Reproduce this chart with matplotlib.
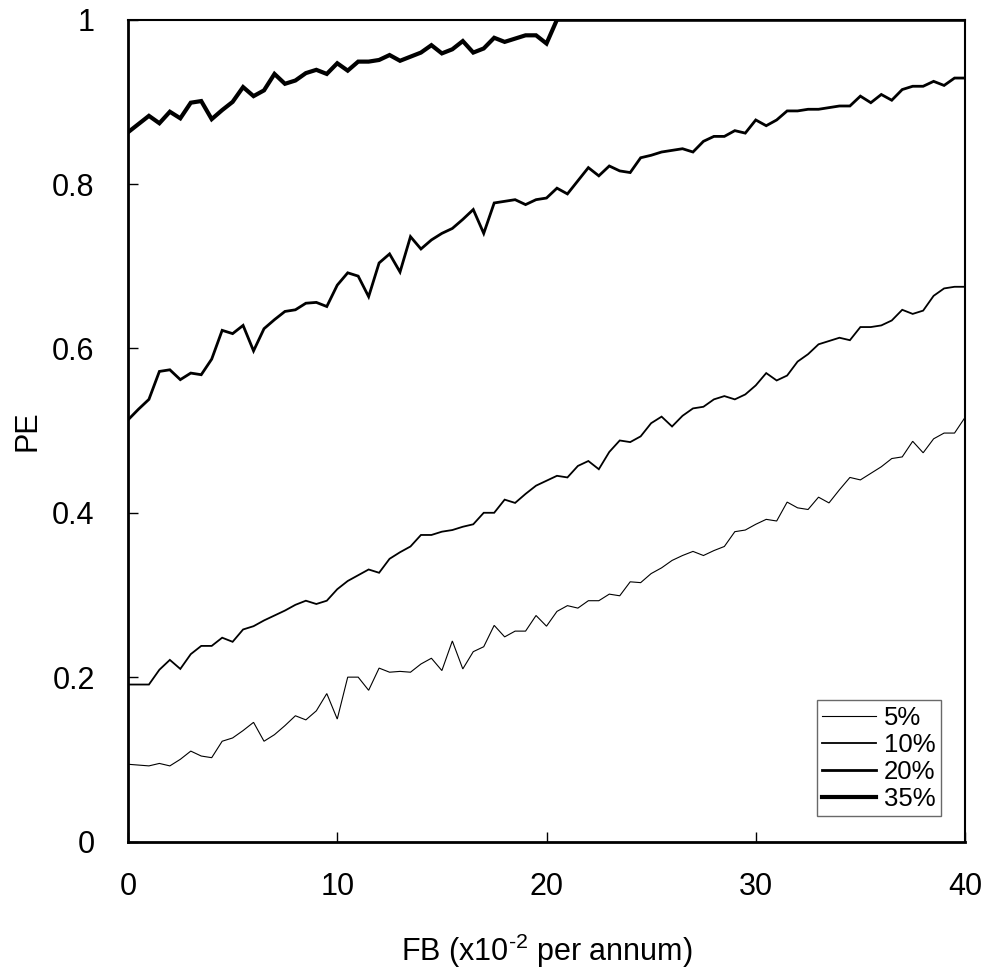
import numpy as np
import matplotlib
matplotlib.use("Agg")
import matplotlib.pyplot as plt

plt.rcParams['font.family'] = ['Liberation Sans', 'DejaVu Sans']
plt.rcParams['mathtext.fontset'] = 'custom'
plt.rcParams['mathtext.rm'] = 'Liberation Sans'
plt.rcParams['axes.unicode_minus'] = False

# FB values (x10^-2 per annum), step 0.5
fb = np.arange(0, 40.01, 0.5)

pe_5 = [0.094, 0.093, 0.092, 0.095, 0.092, 0.100, 0.110, 0.104, 0.102, 0.122,
        0.126, 0.135, 0.145, 0.122, 0.130, 0.141, 0.153, 0.148, 0.159, 0.180,
        0.149, 0.200, 0.200, 0.184, 0.211, 0.206, 0.207, 0.206, 0.216, 0.223,
        0.208, 0.244, 0.210, 0.231, 0.237, 0.263, 0.249, 0.256, 0.256, 0.275,
        0.262, 0.280, 0.287, 0.284, 0.293, 0.293, 0.301, 0.299, 0.316, 0.315,
        0.326, 0.333, 0.342, 0.348, 0.353, 0.348, 0.354, 0.359, 0.377, 0.379,
        0.386, 0.392, 0.390, 0.413, 0.406, 0.404, 0.419, 0.412, 0.428, 0.443,
        0.440, 0.448, 0.456, 0.466, 0.468, 0.487, 0.473, 0.490, 0.497, 0.497,
        0.516]

pe_10 = [0.191, 0.191, 0.191, 0.209, 0.221, 0.210, 0.228, 0.238, 0.238, 0.248,
         0.243, 0.258, 0.262, 0.269, 0.275, 0.281, 0.288, 0.293, 0.289, 0.293,
         0.307, 0.317, 0.324, 0.331, 0.327, 0.344, 0.352, 0.359, 0.373, 0.373,
         0.377, 0.379, 0.383, 0.386, 0.400, 0.400, 0.416, 0.412, 0.423, 0.433,
         0.439, 0.445, 0.443, 0.457, 0.463, 0.453, 0.474, 0.488, 0.486, 0.493,
         0.509, 0.517, 0.505, 0.518, 0.527, 0.529, 0.538, 0.542, 0.538, 0.544,
         0.555, 0.570, 0.561, 0.567, 0.584, 0.593, 0.605, 0.609, 0.613, 0.610,
         0.626, 0.626, 0.628, 0.634, 0.647, 0.642, 0.646, 0.664, 0.673, 0.675,
         0.675]

pe_20 = [0.513, 0.526, 0.538, 0.572, 0.574, 0.562, 0.570, 0.568, 0.587, 0.622,
         0.618, 0.628, 0.597, 0.624, 0.635, 0.645, 0.647, 0.655, 0.656, 0.651,
         0.677, 0.692, 0.688, 0.663, 0.704, 0.715, 0.693, 0.736, 0.721, 0.732,
         0.740, 0.746, 0.757, 0.769, 0.740, 0.777, 0.779, 0.781, 0.775, 0.781,
         0.783, 0.795, 0.788, 0.804, 0.820, 0.810, 0.822, 0.816, 0.814, 0.832,
         0.835, 0.839, 0.841, 0.843, 0.839, 0.852, 0.858, 0.858, 0.865, 0.862,
         0.878, 0.871, 0.878, 0.889, 0.889, 0.891, 0.891, 0.893, 0.895, 0.895,
         0.907, 0.899, 0.909, 0.902, 0.915, 0.919, 0.919, 0.925, 0.920, 0.929,
         0.929]

pe_35 = [0.863, 0.873, 0.883, 0.874, 0.888, 0.880, 0.899, 0.901, 0.879, 0.890,
         0.900, 0.918, 0.907, 0.914, 0.934, 0.922, 0.926, 0.935, 0.939, 0.934,
         0.947, 0.938, 0.949, 0.949, 0.951, 0.957, 0.950, 0.955, 0.960, 0.969,
         0.959, 0.964, 0.974, 0.960, 0.965, 0.978, 0.973, 0.977, 0.981, 0.981,
         0.971] + [1.0] * 40

series = [("5%", pe_5, 0.8), ("10%", pe_10, 1.3), ("20%", pe_20, 2.0), ("35%", pe_35, 3.0)]

fig = plt.figure(figsize=(9.88, 9.69), dpi=100)
ax = fig.add_axes([128/988, 1 - 841.5/969, 837/988, 821.8/969])

for label, vals, lw in series:
    ax.plot(fb, vals, color='black', lw=lw, label=label, solid_joinstyle='miter')

ax.set_xlim(0, 40)
ax.set_ylim(0, 1)
ax.set_xticks([0, 10, 20, 30, 40])
ax.set_xticklabels(['0', '10', '20', '30', '40'])
ax.set_yticks([0, 0.2, 0.4, 0.6, 0.8, 1.0])
ax.set_yticklabels(['0', '0.2', '0.4', '0.6', '0.8', '1'])
ax.tick_params(axis='both', direction='in', length=7, width=1, labelsize=22, colors='black')
ax.tick_params(axis='x', pad=22)
ax.tick_params(axis='y', pad=24)
for side in ['left', 'bottom']:
    ax.spines[side].set_linewidth(2)
for side in ['top', 'right']:
    ax.spines[side].set_linewidth(1.5)

ax.set_xlabel(r'FB (x10$^{\mathregular{\text{-}2}}$ per annum)', fontsize=22, labelpad=21)
ax.set_ylabel('PE', fontsize=22, labelpad=7)

leg = ax.legend(loc='lower right', bbox_to_anchor=(0.971, 0.031), borderaxespad=0,
                fontsize=18.5, frameon=True, fancybox=False, handlelength=2.1,
                handletextpad=0.3, labelspacing=0.12, borderpad=0.2)
leg.get_frame().set_edgecolor('#444444')
leg.get_frame().set_linewidth(1)

fig.savefig('out.png', dpi=100)
